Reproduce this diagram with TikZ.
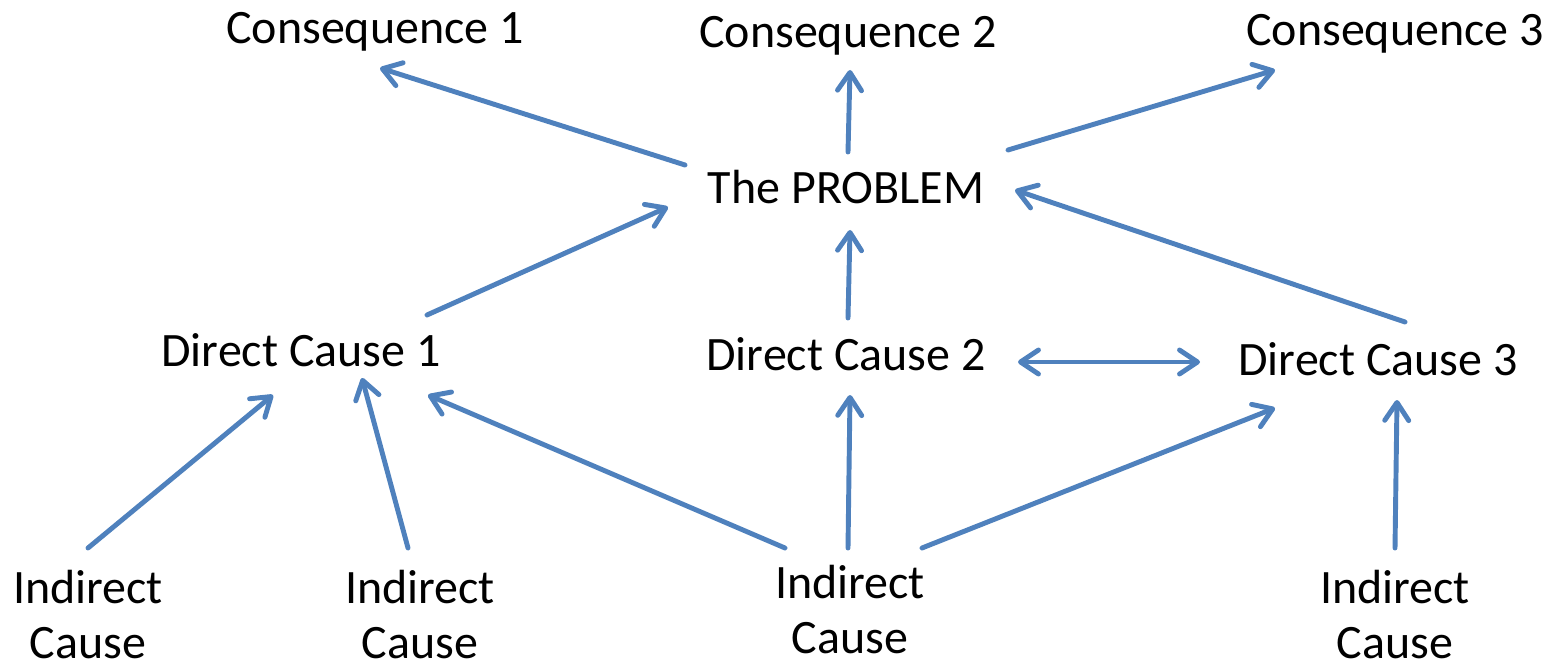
\documentclass[tikz,border=0pt]{standalone}
\usepackage{fontspec}
\setmainfont{Carlito}
\usetikzlibrary{arrows.meta}
\definecolor{OfficeBlue}{HTML}{4F81BD}
\tikzset{>={Straight Barb[round, length=3.6mm, width=4.8mm]},
  arr/.style={->, line width=2.8pt, color=OfficeBlue, line cap=round},
  lbl/.style={anchor=base, inner sep=0pt, font=\fontsize{27.3}{31.3}\selectfont},
  lbl2/.style={lbl, align=center}}

\begin{document}
\begin{tikzpicture}[x=0.02cm, y=-0.02cm]
    \useasboundingbox (0,0) rectangle (1554,665);
    % top row
    \node[lbl] (cons1) at (375,44) {Consequence 1};
    \node[lbl] (cons2) at (848,48) {Consequence 2};
    \node[lbl] (cons3) at (1395,46) {Consequence 3};
    \node[lbl] (problem) at (846,204) {The PROBLEM};
    % direct causes
    \node[lbl] (dc1) at (301,366) {Direct Cause 1};
    \node[lbl] (dc2) at (846,370) {Direct Cause 2};
    \node[lbl] (dc3) at (1378,375) {Direct Cause 3};
    % indirect causes (base = last line)
    \node[lbl2] (ic1) at (88,658) {Indirect\\Cause};
    \node[lbl2] (ic2) at (420,658) {Indirect\\Cause};
    \node[lbl2] (ic3) at (850,653) {Indirect\\Cause};
    \node[lbl2] (ic4) at (1395,658) {Indirect\\Cause};
    % problem -> consequences
    \draw [arr] ([shift={(-161,-39)}]problem.base) -- ([shift={(5,24)}]cons1.base);
    \draw [arr] ([shift={(2,-52)}]problem.base) -- ([shift={(2,22)}]cons2.base);
    \draw [arr] ([shift={(162,-54)}]problem.base) -- ([shift={(-120,24)}]cons3.base);
    % direct causes -> problem
    \draw [arr] ([shift={(126,-51)}]dc1.base) -- ([shift={(-178,3)}]problem.base);
    \draw [arr] ([shift={(2,-52)}]dc2.base) -- ([shift={(4,26)}]problem.base);
    \draw [arr] ([shift={(27,-53)}]dc3.base) -- ([shift={(169,-14)}]problem.base);
    \draw [arr, <->] ([shift={(172,-8)}]dc2.base) -- ([shift={(-178,-13)}]dc3.base);
    % indirect causes -> direct causes
    \draw [arr] ([shift={(0,-110)}]ic1.base) -- ([shift={(-28,29)}]dc1.base);
    \draw [arr] ([shift={(-12,-110)}]ic2.base) -- ([shift={(61,12)}]dc1.base);
    \draw [arr] ([shift={(-65,-105)}]ic3.base) -- ([shift={(127,29)}]dc1.base);
    \draw [arr] ([shift={(-2,-105)}]ic3.base) -- ([shift={(4,25)}]dc2.base);
    \draw [arr] ([shift={(72,-105)}]ic3.base) -- ([shift={(-103,33)}]dc3.base);
    \draw [arr] ([shift={(0,-110)}]ic4.base) -- ([shift={(19,25)}]dc3.base);
\end{tikzpicture}
\end{document}
